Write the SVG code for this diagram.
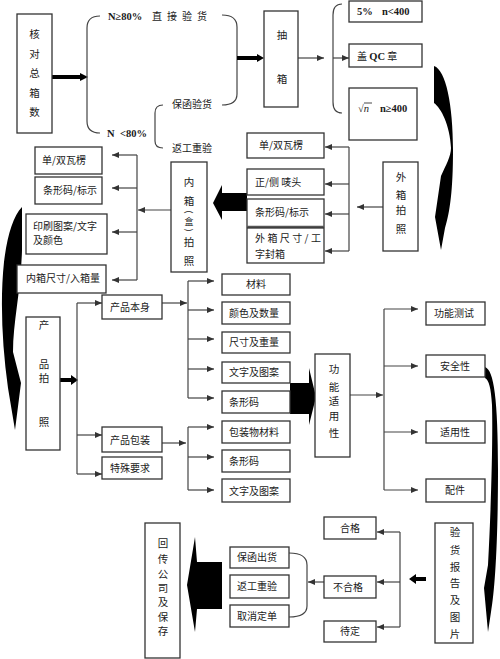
<svg xmlns="http://www.w3.org/2000/svg" width="500" height="659" viewBox="0 0 500 659">
<style>
.b{fill:#fff;stroke:#333;stroke-width:1.3}
.t{font-family:"Noto Sans CJK SC","Liberation Sans",sans-serif;font-size:10px;fill:#1a1a1a}
.v{font-family:"Noto Sans CJK SC","Liberation Sans",sans-serif;font-size:10.5px;fill:#1a1a1a;text-anchor:middle}
.p{font-family:"Noto Sans CJK SC","Liberation Sans",sans-serif;font-size:9px;fill:#1a1a1a;text-anchor:middle;dominant-baseline:central}
.l{font-family:"Liberation Serif",serif;font-weight:bold;font-size:10.5px;fill:#1a1a1a}
.c{fill:none;stroke:#444;stroke-width:1.2}
.k{fill:#000;stroke:none}
</style>
<defs>
<marker id="ah" markerWidth="7" markerHeight="6" refX="7" refY="3" orient="auto" markerUnits="userSpaceOnUse"><path d="M0,0 L7,3 L0,6 Z" fill="#333"/></marker>
</defs>
<rect width="500" height="659" fill="#fff"/>

<g id="connectors">
<polygon class="k" points="52,75 80,75 80,73 88,77 80,81 80,79 52,79"/>
<path class="c" d="M100,16 C91,16 87,20 87,28 L87,121 C87,129 91,133 100,133"/>
<path class="c" d="M222,15 C232,15 237,19 237,27 L237,94 C237,102 232,105 222,105"/>
<path class="c" d="M163,105 C158,105 155,108 155,113 L155,141 C155,146 158,148 163,148"/>
<polygon class="k" points="237,56 257,56 257,54 264,58 257,62 257,60 237,60"/>
<line class="c" x1="298" y1="58" x2="324" y2="58" marker-end="url(#ah)"/>
<path class="c" d="M342,4 C336,4 333,8 333,15 L333,102 C333,109 336,113 342,113"/>
<line class="c" x1="333" y1="58" x2="349" y2="58" marker-end="url(#ah)"/>
<path class="k" d="M434,66 C446,70 453,105 453,150 C453,190 450,212 445,228 L441,250 L435,217 L441,176 C446,165 451,156 451,148 C450,125 441,108 434,103 Z"/>
<line class="c" x1="383" y1="207" x2="357" y2="207" marker-end="url(#ah)"/>
<line class="c" x1="349" y1="147" x2="349" y2="251"/>
<line class="c" x1="349" y1="147" x2="325" y2="147" marker-end="url(#ah)"/>
<line class="c" x1="349" y1="184" x2="325" y2="184" marker-end="url(#ah)"/>
<line class="c" x1="349" y1="214" x2="325" y2="214" marker-end="url(#ah)"/>
<line class="c" x1="349" y1="251" x2="325" y2="251" marker-end="url(#ah)"/>
<polygon class="k" points="247,193 222,193 222,185 213,203 222,220 222,211 247,211"/>
<line class="c" x1="171" y1="210" x2="138" y2="210" marker-end="url(#ah)"/>
<line class="c" x1="137" y1="155" x2="137" y2="280"/>
<line class="c" x1="137" y1="155" x2="112" y2="155" marker-end="url(#ah)"/>
<line class="c" x1="137" y1="188" x2="112" y2="188" marker-end="url(#ah)"/>
<line class="c" x1="137" y1="232" x2="112" y2="232" marker-end="url(#ah)"/>
<line class="c" x1="137" y1="280" x2="112" y2="280" marker-end="url(#ah)"/>
<path class="k" d="M22,207 L22,250 C21,290 13,322 13,352 L21,383 L15,430 L8,388 C2,345 0,300 4,262 C7,237 13,216 22,207 Z"/>
<polygon class="k" points="60,378 71,378 71,375 78,380 71,385 71,382 60,382"/>
<line class="c" x1="77" y1="303" x2="77" y2="474"/>
<line class="c" x1="77" y1="303" x2="102" y2="303" marker-end="url(#ah)"/>
<line class="c" x1="77" y1="435" x2="102" y2="435" marker-end="url(#ah)"/>
<line class="c" x1="77" y1="474" x2="102" y2="474" marker-end="url(#ah)"/>
<line class="c" x1="162" y1="303" x2="187" y2="303" marker-end="url(#ah)"/>
<line class="c" x1="188" y1="281" x2="188" y2="398"/>
<line class="c" x1="188" y1="281" x2="214" y2="281" marker-end="url(#ah)"/>
<line class="c" x1="188" y1="310" x2="214" y2="310" marker-end="url(#ah)"/>
<line class="c" x1="188" y1="339" x2="214" y2="339" marker-end="url(#ah)"/>
<line class="c" x1="188" y1="369" x2="214" y2="369" marker-end="url(#ah)"/>
<line class="c" x1="188" y1="398" x2="214" y2="398" marker-end="url(#ah)"/>
<line class="c" x1="162" y1="443" x2="186" y2="443" marker-end="url(#ah)"/>
<line class="c" x1="188" y1="427" x2="188" y2="490"/>
<line class="c" x1="188" y1="427" x2="214" y2="427" marker-end="url(#ah)"/>
<line class="c" x1="188" y1="457" x2="214" y2="457" marker-end="url(#ah)"/>
<line class="c" x1="188" y1="490" x2="214" y2="490" marker-end="url(#ah)"/>
<polygon class="k" points="290,383 309,383 309,368 316,397 309,425 309,414 290,414"/>
<line class="c" x1="350" y1="395" x2="383" y2="395" marker-end="url(#ah)"/>
<line class="c" x1="384" y1="309" x2="384" y2="490"/>
<line class="c" x1="384" y1="309" x2="418" y2="309" marker-end="url(#ah)"/>
<line class="c" x1="384" y1="366" x2="418" y2="366" marker-end="url(#ah)"/>
<line class="c" x1="384" y1="432" x2="418" y2="432" marker-end="url(#ah)"/>
<line class="c" x1="384" y1="490" x2="418" y2="490" marker-end="url(#ah)"/>
<path class="k" d="M485,367 C494,370 498,400 498,470 C498,540 495,590 491,612 L488,632 L484,588 L488,565 C491,510 493,440 492,405 C491,388 489,380 485,378 Z"/>
<polygon class="k" points="426,577 416,577 416,574 409,579 416,584 416,581 426,581"/>
<line class="c" x1="400" y1="532" x2="400" y2="627"/>
<line class="c" x1="400" y1="532" x2="377" y2="532" marker-end="url(#ah)"/>
<line class="c" x1="400" y1="582" x2="377" y2="582" marker-end="url(#ah)"/>
<line class="c" x1="400" y1="627" x2="377" y2="627" marker-end="url(#ah)"/>
<line class="c" x1="324" y1="582" x2="308" y2="582" marker-end="url(#ah)"/>
<path class="c" d="M289,553 C300,553 307,556 307,565 L307,606 C307,614 300,617 289,617"/>
<polygon class="k" points="222,562 197,562 195,537 187,585 195,632 197,609 222,609"/>
</g>

<g id="n-hedui"><rect class="b" x="17" y="14" width="35" height="119"/>
<text class="v" x="34.5" y="38">核<tspan x="34.5" dy="19.5">对</tspan><tspan x="34.5" dy="19.5">总</tspan><tspan x="34.5" dy="19.5">箱</tspan><tspan x="34.5" dy="19.5">数</tspan></text></g>
<g id="n-ge80"><text class="t" x="108" y="20"><tspan class="l">N≥80%</tspan><tspan x="152">直</tspan><tspan x="167">接</tspan><tspan x="182">验</tspan><tspan x="197">货</tspan></text></g>
<g id="n-lt80"><text class="l" x="107" y="137">N  <tspan x="120">&lt;80%</tspan></text></g>
<g id="n-baohan"><text class="t" x="172" y="108">保函验货</text></g>
<g id="n-fangong1"><text class="t" x="172" y="152">返工重验</text></g>
<g id="n-chou"><rect class="b" x="264" y="11" width="34" height="96"/>
<text class="v" x="282" y="39">抽<tspan x="282" dy="44">箱</tspan></text></g>
<g id="n-5pct"><rect class="b" x="349" y="1" width="73" height="21"/>
<text class="l" x="357" y="15">5%<tspan x="382">n&lt;400</tspan></text></g>
<g id="n-qc"><rect class="b" x="349" y="44" width="73" height="23"/>
<text class="t" x="357" y="60">盖 <tspan class="l">QC</tspan> 章</text></g>
<g id="n-sqrt"><rect class="b" x="349" y="88" width="68" height="52"/>
<text class="l" x="358" y="112"><tspan font-weight="normal">√</tspan><tspan font-style="italic" font-weight="normal">n</tspan><tspan x="380">n≥400</tspan></text>
<line x1="364" y1="103" x2="372" y2="103" stroke="#1a1a1a" stroke-width="0.8"/></g>

<g id="n-wabl"><rect class="b" x="35" y="147" width="67" height="27"/><text class="t" x="42" y="164">单/双瓦楞</text></g>
<g id="n-txml"><rect class="b" x="35" y="177" width="67" height="27"/><text class="t" x="43" y="194">条形码/标示</text></g>
<g id="n-yinshua"><rect class="b" x="26" y="214" width="81" height="40"/><text class="t" x="33" y="230">印刷图案/文字</text><text class="t" x="33" y="244">及颜色</text></g>
<g id="n-neichicun"><rect class="b" x="17" y="265" width="89" height="28"/><text class="t" x="26" y="282">内箱尺寸/入箱量</text></g>
<g id="n-neixiang"><rect class="b" x="171" y="162" width="36" height="110"/>
<text class="v" x="189" y="186">内<tspan x="189" dy="19">箱</tspan></text>
<text class="p" transform="translate(189,212) rotate(90)">(</text>
<text class="p" x="189" y="221" font-size="8">盒</text>
<text class="p" transform="translate(189,230) rotate(90)">)</text>
<text class="v" x="189" y="246">拍<tspan x="189" dy="19">照</tspan></text></g>

<g id="n-wabr"><rect class="b" x="247" y="133" width="77" height="25"/><text class="t" x="259" y="149">单/双瓦楞</text></g>
<g id="n-maitou"><rect class="b" x="247" y="169" width="77" height="26"/><text class="t" x="255" y="186">正/侧  唛头</text></g>
<g id="n-txmr"><rect class="b" x="247" y="199" width="77" height="28"/><line x1="247" y1="227" x2="324" y2="227" stroke="#555" stroke-width="2.5"/><text class="t" x="255" y="216">条形码/标示</text></g>
<g id="n-waichicun"><rect class="b" x="247" y="228" width="77" height="35"/><text class="t" x="255" y="242" letter-spacing="2.4">外箱尺寸/工</text><text class="t" x="255" y="258">字封箱</text></g>
<g id="n-waixiang"><rect class="b" x="383" y="162" width="35" height="89"/>
<text class="v" x="401" y="181">外<tspan x="401" dy="18">箱</tspan><tspan x="401" dy="15">拍</tspan><tspan x="401" dy="19">照</tspan></text></g>

<g id="n-benshen"><rect class="b" x="102" y="295" width="60" height="24"/><text class="t" x="110" y="311">产品本身</text></g>
<g id="n-paizhao"><rect class="b" x="26" y="317" width="34" height="133"/>
<text class="v" x="44" y="329">产<tspan x="44" dy="39">品</tspan><tspan x="44" dy="14">拍</tspan><tspan x="44" dy="44">照</tspan></text></g>
<g id="n-baozhuang"><rect class="b" x="102" y="427" width="60" height="25"/><text class="t" x="110" y="444">产品包装</text></g>
<g id="n-teshu"><rect class="b" x="102" y="457" width="60" height="22"/><text class="t" x="110" y="472">特殊要求</text></g>

<g id="n-cailiao"><rect class="b" x="222" y="274" width="68" height="21"/><text class="t" x="246" y="288">材料</text></g>
<g id="n-yanse"><rect class="b" x="222" y="302" width="68" height="22"/><text class="t" x="229" y="317">颜色及数量</text></g>
<g id="n-chicun"><rect class="b" x="222" y="332" width="68" height="21"/><text class="t" x="229" y="346">尺寸及重量</text></g>
<g id="n-wenzi1"><rect class="b" x="222" y="362" width="68" height="21"/><text class="t" x="229" y="376">文字及图案</text></g>
<g id="n-txm1"><rect class="b" x="222" y="391" width="68" height="22"/><text class="t" x="229" y="406">条形码</text></g>
<g id="n-bzw"><rect class="b" x="222" y="421" width="68" height="22"/><text class="t" x="229" y="436">包装物材料</text></g>
<g id="n-txm2"><rect class="b" x="222" y="450" width="68" height="22"/><text class="t" x="229" y="465">条形码</text></g>
<g id="n-wenzi2"><rect class="b" x="222" y="479" width="68" height="23"/><text class="t" x="229" y="495">文字及图案</text></g>

<g id="n-gongneng"><rect class="b" x="315" y="354" width="35" height="103"/>
<text class="v" x="334" y="373">功<tspan x="334" dy="18">能</tspan><tspan x="334" dy="14">适</tspan><tspan x="334" dy="15">用</tspan><tspan x="334" dy="17">性</tspan></text></g>
<g id="n-ceshi"><rect class="b" x="426" y="302" width="59" height="23"/><text class="t" x="434" y="317">功能测试</text></g>
<g id="n-anquan"><rect class="b" x="426" y="355" width="59" height="22"/><text class="t" x="440" y="370">安全性</text></g>
<g id="n-shiyong"><rect class="b" x="426" y="421" width="59" height="22"/><text class="t" x="440" y="436">适用性</text></g>
<g id="n-peijian"><rect class="b" x="426" y="479" width="59" height="23"/><text class="t" x="445" y="494">配件</text></g>

<g id="n-hege"><rect class="b" x="324" y="517" width="52" height="22"/><text class="t" x="340" y="532">合格</text></g>
<g id="n-buhege"><rect class="b" x="324" y="576" width="52" height="22"/><text class="t" x="333" y="591">不合格</text></g>
<g id="n-daiding"><rect class="b" x="324" y="621" width="52" height="21"/><text class="t" x="340" y="635">待定</text></g>
<g id="n-baogao"><rect class="b" x="435" y="523" width="38" height="120"/>
<text class="v" x="455" y="536">验<tspan x="455" dy="18">货</tspan><tspan x="455" dy="17">报</tspan><tspan x="455" dy="16">告</tspan><tspan x="455" dy="17">及</tspan><tspan x="455" dy="17">图</tspan><tspan x="455" dy="17">片</tspan></text></g>
<g id="n-baohanchu"><rect class="b" x="230" y="547" width="59" height="21"/><text class="t" x="237" y="561">保函出货</text></g>
<g id="n-fangong2"><rect class="b" x="230" y="575" width="59" height="23"/><text class="t" x="237" y="590">返工重验</text></g>
<g id="n-quxiao"><rect class="b" x="230" y="605" width="59" height="22"/><text class="t" x="237" y="620">取消定单</text></g>
<g id="n-huichuan"><rect class="b" x="145" y="523" width="35" height="135"/>
<text class="v" x="163" y="547">回<tspan x="163" dy="16">传</tspan><tspan x="163" dy="15">公</tspan><tspan x="163" dy="14">司</tspan><tspan x="163" dy="14">及</tspan><tspan x="163" dy="15">保</tspan><tspan x="163" dy="14">存</tspan></text></g>
</svg>
